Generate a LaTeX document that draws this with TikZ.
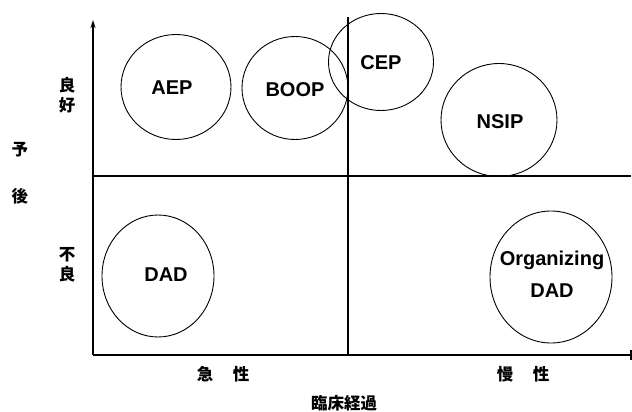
\documentclass[tikz,border=0pt]{standalone}
\usepackage{fontspec}
\setmainfont{Liberation Sans}
\newfontfamily\cjk{Noto Sans CJK JP}
\usetikzlibrary{shapes.geometric,arrows.meta}
\begin{document}
\begin{tikzpicture}[x=1pt,y=-1pt,
  bub/.style={draw, ellipse, line width=0.9pt, inner sep=0pt},
  lab/.style={font=\fontsize{20}{22}\selectfont\bfseries, inner sep=0pt},
  jp/.style={font=\cjk\bfseries\fontsize{16.5}{18}\selectfont, inner sep=0pt},
  axis/.style={line width=2.2pt},
  mid/.style={line width=1.1pt}]
\useasboundingbox (0,0) rectangle (632,412);
% axes
\coordinate (O) at (93,355);
\coordinate (ytop) at (93,20);
\coordinate (xend) at (631,355);
\draw[axis, -{Stealth[length=8pt,width=5pt]}] (O) -- (ytop);
\draw[axis] (O) -- (xend);
\draw[line width=1.2pt] (xend) ++(0,-5) -- ++(0,10);
% mid lines
\coordinate (hl) at (93,176);
\coordinate (hr) at (631,176);
\coordinate (vt) at (348,17);
\coordinate (vb) at (348,355);
\draw[mid] (hl) -- (hr);
\draw[mid] (vt) -- (vb);
% bubbles
\node[bub, minimum width=110pt, minimum height=105pt] (aep) at (176,87) {};
\node[bub, minimum width=106pt, minimum height=103pt] (boop) at (295,88) {};
\node[bub, minimum width=105pt, minimum height=97pt] (cep) at (381,62) {};
\node[bub, minimum width=116pt, minimum height=113pt] (nsip) at (499,120) {};
\node[bub, minimum width=112pt, minimum height=122pt] (dad) at (158,276) {};
\node[bub, minimum width=122pt, minimum height=132pt] (odad) at (551,277) {};
% bubble labels
\node[lab] (taep) at (172,88) {AEP};
\node[lab] (tboop) at (295,90) {BOOP};
\node[lab] (tcep) at (381,63) {CEP};
\node[lab] (tnsip) at (500,122) {NSIP};
\node[lab] (tdad) at (166,275) {DAD};
\node[lab, align=center, font=\fontsize{20}{32}\selectfont\bfseries] (todad) at (552,274) {Organizing\\DAD};
% axis labels
\node[jp] (ry1) at (67,85) {良};
\node[jp] (ry2) at (67,105) {好};
\node[jp] (fr1) at (67,255) {不};
\node[jp] (fr2) at (67,274) {良};
\node[jp] (yo1) at (20,150) {予};
\node[jp] (yo2) at (20,196) {後};
\node[jp] (kyu) at (205,374) {急};
\node[jp] (sei1) at (241,374) {性};
\node[jp] (man) at (505,374) {慢};
\node[jp] (sei2) at (541,374) {性};
\node[jp] (rin) at (344,403) {臨床経過};
\end{tikzpicture}
\end{document}
